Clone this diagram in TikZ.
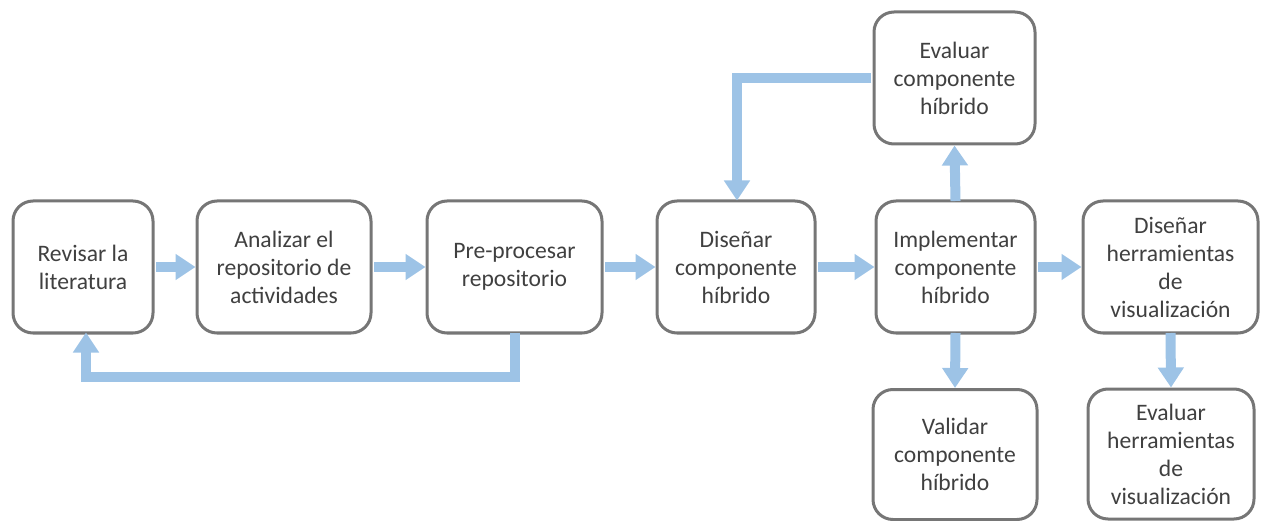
\documentclass[tikz,border=0pt]{standalone}
\usepackage{fontspec}
\setmainfont{Carlito}
\usetikzlibrary{arrows.meta}
\definecolor{boxline}{RGB}{118,118,118}
\definecolor{flow}{RGB}{157,195,230}
\definecolor{txt}{RGB}{64,64,64}
\tikzset{
  stepbox/.style={draw=boxline, line width=3pt, rounded corners=20pt, fill=white,
    inner sep=0pt, align=center, text=txt,
    font=\fontsize{23.6}{28}\selectfont},
  flowarrow/.style={draw=flow, line width=10pt,
    -{Triangle[width=25pt,length=20pt]}},
}
\begin{document}
\begin{tikzpicture}[x=1pt,y=-1pt]
\useasboundingbox (0,0) rectangle (1261,521);
% process steps
\node[stepbox, minimum width=140pt, minimum height=132pt] (rev) at (83,267) {Revisar la\\literatura};
\node[stepbox, minimum width=174pt, minimum height=132pt] (ana) at (284,267) {Analizar el\\repositorio de\\actividades};
\node[stepbox, minimum width=175pt, minimum height=132pt] (pre) at (514.5,267) {Pre-procesar\\repositorio};
\node[stepbox, minimum width=158pt, minimum height=132pt] (dis) at (736,267) {Diseñar\\componente\\híbrido};
\node[stepbox, minimum width=159pt, minimum height=132pt] (imp) at (955.5,267) {Implementar\\componente\\híbrido};
\node[stepbox, minimum width=175pt, minimum height=132pt] (dherr) at (1170.5,267) {Diseñar\\herramientas\\de\\visualización};
\node[stepbox, minimum width=161pt, minimum height=132pt] (evc) at (954.5,78) {Evaluar\\componente\\híbrido};
\node[stepbox, minimum width=164pt, minimum height=130pt] (val) at (955,454.5) {Validar\\componente\\híbrido};
\node[stepbox, minimum width=166pt, minimum height=130pt] (eherr) at (1171,454) {Evaluar\\herramientas\\de\\visualización};
% main flow
\draw[flowarrow] ([xshift=1.5pt]rev.east) -- (ana.west);
\draw[flowarrow] ([xshift=1.5pt]ana.east) -- (pre.west);
\draw[flowarrow] ([xshift=1.5pt]pre.east) -- (dis.west);
\draw[flowarrow] ([xshift=1.5pt]dis.east) -- (imp.west);
\draw[flowarrow] ([xshift=1.5pt]imp.east) -- (dherr.west);
\draw[flowarrow] ([yshift=-1.5pt]imp.north) -- (evc.south);
\draw[flowarrow] ([yshift=1.5pt]imp.south) -- (val.north);
\draw[flowarrow] ([yshift=1.5pt]dherr.south) -- (eherr.north);
% feedback loops
\draw[flowarrow] ([yshift=1.5pt]pre.south) -- ++(0,44) -| ([xshift=3pt,yshift=2pt]rev.south);
\draw[flowarrow] ([xshift=-1.5pt]evc.west) -| ([xshift=1pt,yshift=-1pt]dis.north);
\end{tikzpicture}
\end{document}
